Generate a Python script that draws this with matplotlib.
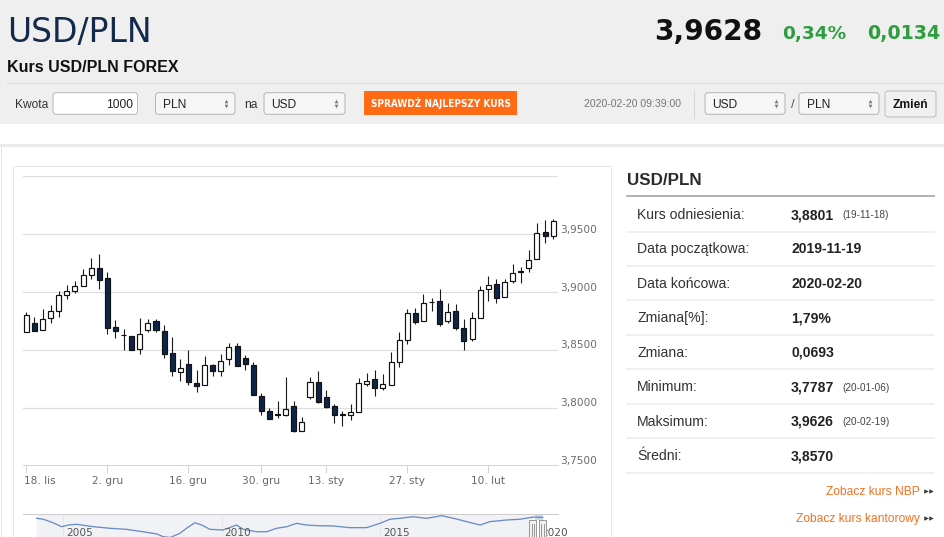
import matplotlib
matplotlib.use("Agg")
import matplotlib.pyplot as plt
import matplotlib.transforms as mtransforms
from matplotlib import font_manager
from matplotlib.font_manager import FontProperties
from matplotlib.patches import FancyBboxPatch, Rectangle
import numpy as np

W, H = 945, 537
PT = 0.72  # pixel -> point at dpi 100

# daily candles 2019-11-18 .. 2020-02-20
opens = [3.8653, 3.8730, 3.8672, 3.8770, 3.8839, 3.8972, 3.9011, 3.9049, 3.9144, 3.9207,
         3.9123, 3.8696, 3.8631, 3.8621, 3.8509, 3.8672, 3.8750, 3.8664, 3.8472, 3.8310,
         3.8379, 3.8213, 3.8192, 3.8371, 3.8319, 3.8420, 3.8528, 3.8428, 3.8371, 3.8103,
         3.7966, 3.7942, 3.7937, 3.8011, 3.7796, 3.8089, 3.8222, 3.8092, 3.8011, 3.7942,
         3.7931, 3.7963, 3.8207, 3.8247, 3.8166, 3.8192, 3.8397, 3.8586, 3.8816, 3.8744,
         3.8913, 3.8917, 3.8744, 3.8839, 3.8687, 3.8592, 3.8778, 3.9023, 3.9066, 3.8954,
         3.9097, 3.9173, 3.9209, 3.9282, 3.9520, 3.9485]
highs = [3.8828, 3.8787, 3.8851, 3.8891, 3.9006, 3.9058, 3.9097, 3.9201, 3.9293, 3.9328,
         3.9170, 3.8759, 3.8681, 3.8621, 3.8773, 3.8765, 3.8765, 3.8716, 3.8606, 3.8420,
         3.8500, 3.8322, 3.8448, 3.8379, 3.8463, 3.8554, 3.8554, 3.8457, 3.8397, 3.8127,
         3.7997, 3.8060, 3.8265, 3.8060, 3.7920, 3.8265, 3.8319, 3.8155, 3.8034, 3.7968,
         3.8034, 3.8256, 3.8299, 3.8328, 3.8293, 3.8480, 3.8649, 3.8851, 3.8862, 3.8983,
         3.8946, 3.9026, 3.8908, 3.8897, 3.8765, 3.8830, 3.9054, 3.9141, 3.9112, 3.9109,
         3.9244, 3.9218, 3.9359, 3.9592, 3.9626, 3.9628]
lows = [3.8653, 3.8661, 3.8672, 3.8730, 3.8782, 3.8937, 3.8994, 3.9049, 3.9115, 3.9023,
        3.8632, 3.8601, 3.8500, 3.8494, 3.8463, 3.8655, 3.8655, 3.8428, 3.8276, 3.8227,
        3.8192, 3.8132, 3.8192, 3.8270, 3.8270, 3.8368, 3.8362, 3.8322, 3.8112, 3.7931,
        3.7897, 3.7905, 3.7925, 3.7787, 3.7796, 3.8075, 3.8043, 3.8000, 3.7868, 3.7839,
        3.7891, 3.7963, 3.8184, 3.8097, 3.8149, 3.8192, 3.8351, 3.8552, 3.8722, 3.8744,
        3.8836, 3.8701, 3.8735, 3.8672, 3.8500, 3.8572, 3.8778, 3.8917, 3.8903, 3.8954,
        3.9075, 3.9075, 3.9170, 3.9282, 3.9420, 3.9454]
closes = [3.8799, 3.8666, 3.8765, 3.8839, 3.8974, 3.9006, 3.9049, 3.9144, 3.9207, 3.9101,
          3.8687, 3.8661, 3.8627, 3.8500, 3.8635, 3.8735, 3.8672, 3.8463, 3.8319, 3.8345,
          3.8222, 3.8184, 3.8371, 3.8319, 3.8405, 3.8523, 3.8362, 3.8379, 3.8112, 3.7974,
          3.7903, 3.7938, 3.7989, 3.7796, 3.7877, 3.8218, 3.8049, 3.8006, 3.7931, 3.7938,
          3.7960, 3.8213, 3.8233, 3.8170, 3.8204, 3.8394, 3.8586, 3.8816, 3.8739, 3.8908,
          3.8909, 3.8721, 3.8830, 3.8687, 3.8578, 3.8773, 3.9017, 3.9060, 3.8951, 3.9084,
          3.9161, 3.9177, 3.9276, 3.9511, 3.9485, 3.9615]

tick_idx = [0, 10, 20, 29, 37, 47, 57]
tick_labels = ["18. lis", "2. gru", "16. gru", "30. gru", "13. sty", "27. sty", "10. lut"]
y_ticks = [3.75, 3.80, 3.85, 3.90, 3.95]
grid_levels = [3.80, 3.85, 3.90, 3.95, 4.00]

# navigator: long history of the rate
nav_years = [2004.16, 2004.37, 2004.68, 2004.95, 2005.16, 2005.42, 2005.95, 2006.47, 2007.00,
             2007.52, 2007.95, 2008.15, 2008.37, 2008.68, 2008.89, 2009.15, 2009.37, 2009.63,
             2010.04, 2010.47, 2010.68, 2011.10, 2011.42, 2011.73, 2012.05, 2012.36, 2012.68,
             2013.00, 2013.52, 2014.04, 2014.57, 2014.99, 2015.31, 2015.62, 2016.04, 2016.46,
             2016.94, 2017.41, 2017.73, 2018.15, 2018.46, 2018.99, 2019.41, 2019.83, 2020.13]
nav_rates = [3.88, 3.79, 3.46, 3.08, 3.24, 3.31, 3.08, 2.93, 2.83,
             2.60, 2.39, 2.13, 2.05, 2.45, 2.93, 3.46, 3.24, 2.83,
             2.77, 3.24, 2.83, 2.60, 2.60, 2.93, 3.08, 3.40, 3.24,
             3.18, 3.15, 2.99, 2.99, 3.40, 3.79, 3.88, 4.03, 3.88,
             4.13, 3.81, 3.56, 3.24, 3.56, 3.72, 3.79, 4.00, 3.96]
nav_year_ticks = [2005, 2010, 2015, 2020]
nav_selection = [2019.82, 2020.13]

stat_labels = ["Kurs odniesienia:", "Data początkowa:", "Data końcowa:", "Zmiana[%]:",
               "Zmiana:", "Minimum:", "Maksimum:", "Średni:"]
stat_values = ["3,8801", "2019-11-19", "2020-02-20", "1,79%", "0,0693", "3,7787", "3,9626", "3,8570"]
stat_dates = ["(19-11-18)", "", "", "", "", "(20-01-06)", "(20-02-19)", ""]

SANS = "Liberation Sans"
VERA = "DejaVu Sans"


def narrow_bold_font():
    # a condensed bold face for the orange button, if one is installed
    for f in font_manager.fontManager.ttflist:
        name = f.name.lower()
        narrow = "narrow" in name or "condensed" in name or "condensed" in str(f.stretch)
        bold = f.weight in ("bold", 700) or str(f.weight) == "700"
        if narrow and bold:
            return FontProperties(fname=f.fname)
    return FontProperties(family=SANS, weight="bold")


fig = plt.figure(figsize=(W / 100, H / 100), dpi=100)
page = fig.add_axes([0, 0, 1, 1])
page.set_xlim(0, W)
page.set_ylim(H, 0)
page.axis("off")


def put(x, y, s, px, color="#333333", weight="normal", ha="left", va="baseline", family=SANS):
    return page.text(x, y, s, fontsize=px * PT, color=color, fontweight=weight,
                     ha=ha, va=va, family=family)


def box(x0, y0, x1, y1, fc, ec="none", r=0.0, lw=1.0):
    style = f"round,pad=0,rounding_size={r}" if r else "square,pad=0"
    page.add_patch(FancyBboxPatch((x0, y0), x1 - x0, y1 - y0, boxstyle=style,
                                  fc=fc, ec=ec, lw=lw * PT))


def select(x0, x1, label):
    box(x0, 92.7, x1, 114.3, "#f6f6f6", "#b5b5b5", r=3)
    put(x0 + 7.5, 107.5, label, 12, "#222222")
    page.plot([x1 - 9], [100.6], marker="^", ms=2.6, color="#777777", mec="none")
    page.plot([x1 - 9], [106.2], marker="v", ms=2.6, color="#777777", mec="none")


# page background
box(0, 0, W, 124, "#efefef")
box(0, 144, W, 147, "#ebebeb")
page.plot([0.5, 0.5], [147, H], color="#e3e3e3", lw=PT)
page.add_patch(Rectangle((13, 166), 598, 380, fc="none", ec="#e6e6e6", lw=PT))

# header
put(7, 42, "USD/PLN", 33, "#14294b", family=VERA)
put(7, 72, "Kurs USD/PLN FOREX", 16, "#111111", "bold")
put(654, 39.5, "3,9628", 28, "#111111", "bold", family=VERA)
put(782, 39.5, "0,34%", 18.5, "#2e9d3f", "bold", family=VERA)
put(940, 39.5, "0,0134", 19, "#2e9d3f", "bold", ha="right", family=VERA)
page.plot([7, W], [83, 83], color="#d9d9d9", lw=PT)

put(15, 107.5, "Kwota", 12, "#333333")
box(53, 92.7, 137.5, 114.3, "white", "#b8b8b8", r=3)
put(133, 107.5, "1000", 12, "#222222", ha="right")
select(155.5, 235, "PLN")
put(244, 107.5, "na", 12, "#333333")
select(264, 345, "USD")
box(364, 91, 517, 115, "#ff6a14")
btn_font = narrow_bold_font()
btn_font.set_size(11.5 * PT)
btn = page.text(440.5, 107.2, "SPRAWDŹ NAJLEPSZY KURS", fontproperties=btn_font,
                color="white", ha="center", va="baseline")
renderer = fig.canvas.get_renderer()
btn_w = btn.get_window_extent(renderer=renderer).width
if btn_w > 141:
    btn.set_fontsize(11.5 * PT * 141 / btn_w)
put(583.5, 107, "2020-02-20 09:39:00", 10.5, "#777777")
page.plot([693.5, 693.5], [91, 118], color="#d6d6d6", lw=PT)
select(705, 785, "USD")
put(791, 108, "/", 13, "#555555")
select(799, 879, "PLN")
box(885, 91, 936, 117, "#f0f0f0", "#bdbdbd", r=3)
put(910.5, 107.5, "Zmień", 12, "#111111", "bold", ha="center")

# right panel
put(627, 185, "USD/PLN", 17, "#2b2b2b", "bold")
page.plot([627, 934], [195.7, 195.7], color="#b3b3b3", lw=2 * PT)
for i, (lab, val, dt) in enumerate(zip(stat_labels, stat_values, stat_dates)):
    yc = 214 + i * 34.43
    put(637, yc + 5, lab, 14, "#333333")
    put(791, yc + 5, val, 14, "#222222", "bold")
    if dt:
        put(842, yc + 4.5, dt, 10, "#444444")
    page.plot([627, 934], [yc + 17.6, yc + 17.6], color="#ececec", lw=1.5 * PT)
for yb, link in [(495, "Zobacz kurs NBP"), (522, "Zobacz kurs kantorowy")]:
    put(920, yb, link, 12, "#f5701f", ha="right")
    page.plot([926, 931], [yb - 4, yb - 4], ls="none", marker=">", ms=3.2, color="#333333", mec="none")

# candlestick chart
ax = fig.add_axes([23 / W, (H - 465.3) / H, (558 - 23) / W, (465.3 - 176.3) / H])
ax.set_facecolor("none")
ax.set_xlim(-0.41, 65.6)
ax.set_ylim(3.75, 4.00)
for side in ("top", "right", "left"):
    ax.spines[side].set_visible(False)
ax.spines["bottom"].set_color("#ccd6eb")
ax.spines["bottom"].set_linewidth(PT)
for lvl in grid_levels:
    ax.axhline(lvl, color="#dedede", lw=1.2 * PT, zorder=0)
ax.set_yticks([])
ax.set_xticks(tick_idx)
ax.set_xticklabels([])
ax.tick_params(axis="x", length=8 * PT, width=PT, color="#ccd6eb", direction="out")

o = np.array(opens)
c = np.array(closes)
x = np.arange(len(o))
up = c >= o
ax.vlines(x, lows, highs, color="#1a1a1a", lw=1.1 * PT, zorder=2)
bottoms = np.minimum(o, c)
heights = np.abs(c - o)
ax.bar(x[up], heights[up], bottom=bottoms[up], width=0.62, color="white",
       edgecolor="#111111", lw=0.85, zorder=3)
ax.bar(x[~up], heights[~up], bottom=bottoms[~up], width=0.62, color="#0f2447",
       edgecolor="#111111", lw=0.85, zorder=3)

for i, (ti, tl) in enumerate(zip(tick_idx, tick_labels)):
    ax.annotate(tl, xy=(ti, 0), xycoords=("data", "axes fraction"),
                xytext=(-2.3 if i == 0 else 0, -18.7), textcoords="offset pixels",
                ha="left" if i == 0 else "center", va="baseline",
                fontsize=10.5 * PT, color="#666666", family=VERA)
for yv in y_ticks:
    ax.annotate(f"{yv:.4f}".replace(".", ","), xy=(1, yv), xycoords=("axes fraction", "data"),
                xytext=(2.5, 1.4), textcoords="offset pixels", ha="left", va="baseline",
                fontsize=10.5 * PT, color="#6b6b6b", family=VERA, annotation_clip=False)

# navigator
nav = fig.add_axes([23 / W, 0, (558 - 23) / W, (537 - 514) / H])
nav.set_facecolor("none")
nav.set_xlim(2003.73, 2020.61)
nav.set_ylim(2.1, 4.29)
nav.set_xticks([])
nav.set_yticks([])
for side in ("bottom", "right", "left"):
    nav.spines[side].set_visible(False)
nav.spines["top"].set_color("#cccccc")
nav.spines["top"].set_linewidth(PT)
nav.axvspan(nav_years[0], nav_selection[0], color="#f1f2f5", zorder=0)
for yr in nav_year_ticks:
    nav.axvline(yr, color="#e6e6e6", lw=PT, zorder=1)
    nav.annotate(str(yr), xy=(yr, 1), xycoords=("data", "axes fraction"),
                 xytext=(3, -22), textcoords="offset pixels", ha="left", va="baseline",
                 fontsize=10.5 * PT, color="#555555", family=VERA)
blend = mtransforms.blended_transform_factory(nav.transData, nav.transAxes)
nav.add_patch(Rectangle((nav_selection[0] + 0.06, 1 - 6 / 23), nav_selection[1] - nav_selection[0] - 0.06,
                        6 / 23, transform=blend, fc="#c9daf0", ec="none", zorder=1))
nav.plot(nav_years, nav_rates, color="#6a8cc6", lw=1.3 * PT, zorder=2)
hw = 7 / 31.7
for hx in nav_selection:
    nav.add_patch(FancyBboxPatch((hx - hw / 2, -0.2), hw, 0.94, transform=blend,
                                 boxstyle="square,pad=0", fc="#f2f2f2", ec="#9a9a9a",
                                 lw=PT, zorder=4))
    for dx in (-0.045, 0.045):
        nav.plot([hx + dx, hx + dx], [0.05, 0.55], transform=blend, color="#9a9a9a",
                 lw=PT, zorder=5)

fig.savefig("out.png", dpi=100)
